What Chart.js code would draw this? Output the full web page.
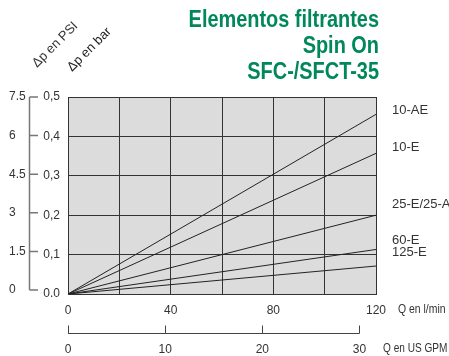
<!DOCTYPE html>
<html>
<head>
<meta charset="utf-8">
<script src="https://cdn.jsdelivr.net/npm/chart.js@4.4.0/dist/chart.umd.min.js"></script>
<style>
  html, body { margin: 0; padding: 0; background: #fff; }
  #wrap { width: 449px; height: 356px; }
</style>
</head>
<body>
<div id="wrap"><canvas id="grafico"></canvas></div>
<script>
// datos
var series = ["10-AE", "10-E", "25-E/25-AE", "60-E", "125-E"];
var caudal = [0, 120];                          // Q en l/min
var dpFin = [0.456, 0.357, 0.200, 0.113, 0.071]; // delta p en bar a 120 l/min
var barTicks = [0, 0.1, 0.2, 0.3, 0.4, 0.5];
var psiTicks = [0, 1.5, 3, 4.5, 6, 7.5];
var gpmTicks = [0, 10, 20, 30];
var titulo = ["Elementos filtrantes", "Spin On", "SFC-/SFCT-35"];

var LMIN_POR_GPM = 3.7854;
var fuente = "'Liberation Sans', Arial, sans-serif";
var gris = "#333";

var datasets = series.map(function (nombre, i) {
  return {
    label: nombre,
    data: caudal.map(function (q) { return { x: q, y: dpFin[i] * q / 120 }; }),
    borderColor: "#222",
    borderWidth: 1,
    pointRadius: 0,
    fill: false
  };
});

// desplazamiento vertical de las etiquetas de serie respecto al final de la linea
var etiquetaDy = [0, -2, -7, -5, -10];

// texto estrecho (la fuente original es condensada)
function texto(ctx, t, x, y, sx) {
  ctx.save();
  ctx.translate(x, y);
  ctx.scale(sx, 1);
  ctx.fillText(t, 0, 0);
  ctx.restore();
}

function girado(ctx, t, x, y) {
  ctx.save();
  ctx.translate(x, y);
  ctx.rotate(-Math.PI / 4);
  ctx.fillText(t, 0, 0);
  ctx.restore();
}

var extras = {
  id: "extras",
  beforeDraw: function (chart) {
    var ctx = chart.ctx, a = chart.chartArea;
    ctx.save();
    ctx.fillStyle = "#dcdcdc";
    ctx.fillRect(a.left, a.top, a.right - a.left, a.bottom - a.top);
    ctx.restore();
  },
  afterDraw: function (chart) {
    var ctx = chart.ctx;
    var psi = chart.scales.psi, xg = chart.scales.xg, y = chart.scales.y;
    ctx.save();

    // titulo
    ctx.fillStyle = "#00875a";
    ctx.font = "bold 24px " + fuente;
    ctx.textAlign = "right";
    ctx.textBaseline = "alphabetic";
    titulo.forEach(function (t, i) {
      texto(ctx, t, 379, 27 + i * 26, 0.83);
    });

    // etiquetas giradas
    ctx.textAlign = "left";
    ctx.font = "13px " + fuente;
    ctx.fillStyle = gris;
    girado(ctx, "\u0394p en PSI", 37, 68);
    ctx.fillStyle = "#222";
    girado(ctx, "\u0394p en bar", 72, 72);

    // eje PSI
    var bx = 29.5;
    ctx.strokeStyle = "#777";
    ctx.lineWidth = 1.5;
    ctx.beginPath();
    ctx.moveTo(bx, psi.getPixelForValue(psiTicks[0]));
    ctx.lineTo(bx, psi.getPixelForValue(psiTicks[psiTicks.length - 1]));
    psiTicks.forEach(function (v) {
      var py = psi.getPixelForValue(v);
      ctx.moveTo(bx, py);
      ctx.lineTo(38, py);
    });
    ctx.stroke();

    // eje GPM
    var by = 333.5;
    ctx.strokeStyle = "#444";
    ctx.lineWidth = 1;
    ctx.beginPath();
    ctx.moveTo(xg.getPixelForValue(gpmTicks[0]), by);
    ctx.lineTo(xg.getPixelForValue(gpmTicks[gpmTicks.length - 1]), by);
    gpmTicks.forEach(function (v) {
      var px = Math.round(xg.getPixelForValue(v)) + 0.5;
      ctx.moveTo(px, by);
      ctx.lineTo(px, by - 8);
    });
    ctx.stroke();

    // titulos de ejes
    ctx.fillStyle = gris;
    ctx.textBaseline = "middle";
    ctx.font = "12px " + fuente;
    texto(ctx, "Q en l/min", 398, 310, 0.87);
    texto(ctx, "Q en US GPM", 383, 349, 0.84);

    // nombres de series
    ctx.font = "13px " + fuente;
    ctx.textBaseline = "alphabetic";
    series.forEach(function (s, i) {
      var py = y.getPixelForValue(dpFin[i]);
      ctx.fillText(s, 392, py + etiquetaDy[i]);
    });
    ctx.restore();
  }
};

new Chart(document.getElementById("grafico"), {
  type: "line",
  data: { datasets: datasets },
  options: {
    responsive: true,
    maintainAspectRatio: false,
    animation: false,
    layout: { padding: { top: 97, right: 73, bottom: 0, left: 9 } },
    plugins: { legend: { display: false }, tooltip: { enabled: false } },
    scales: {
      x: {
        type: "linear", position: "bottom", weight: 0,
        min: 0, max: 120,
        afterBuildTicks: function (s) {
          s.ticks = [0, 20, 40, 60, 80, 100, 120].map(function (v) { return { value: v }; });
        },
        ticks: {
          color: gris, font: { family: fuente, size: 12 }, padding: 9, maxRotation: 0,
          callback: function (v) { return v % 40 === 0 ? String(v) : ""; }
        },
        grid: { color: gris, lineWidth: 1, drawTicks: false },
        border: { color: gris },
        afterFit: function (s) { s.height = 26; }
      },
      xg: {
        type: "linear", position: "bottom", weight: 1,
        min: 0, max: 120 / LMIN_POR_GPM,
        afterBuildTicks: function (s) {
          s.ticks = gpmTicks.map(function (v) { return { value: v }; });
        },
        ticks: { color: gris, font: { family: fuente, size: 12 }, padding: 22, maxRotation: 0 },
        grid: { display: false, drawTicks: false },
        border: { display: false },
        afterFit: function (s) { s.height = 36; }
      },
      y: {
        type: "linear", position: "left", weight: 0,
        min: 0, max: 0.5,
        afterBuildTicks: function (s) {
          s.ticks = barTicks.map(function (v) { return { value: v }; });
        },
        ticks: {
          color: gris, font: { family: fuente, size: 12 }, padding: 8,
          callback: function (v) { return v === 0 ? "0.0" : v.toFixed(1).replace(".", ","); }
        },
        grid: { color: gris, lineWidth: 1, drawTicks: false },
        border: { color: gris },
        afterFit: function (s) { s.width = 30; }
      },
      psi: {
        type: "linear", position: "left", weight: 1,
        min: -0.155, max: 7.5,
        afterBuildTicks: function (s) {
          s.ticks = psiTicks.map(function (v) { return { value: v }; });
        },
        ticks: {
          color: gris, font: { family: fuente, size: 12 }, crossAlign: "far",
          callback: function (v) { return String(v); }
        },
        grid: { display: false, drawTicks: false },
        border: { display: false },
        afterFit: function (s) { s.width = 29; }
      }
    }
  },
  plugins: [extras]
});
</script>
</body>
</html>
